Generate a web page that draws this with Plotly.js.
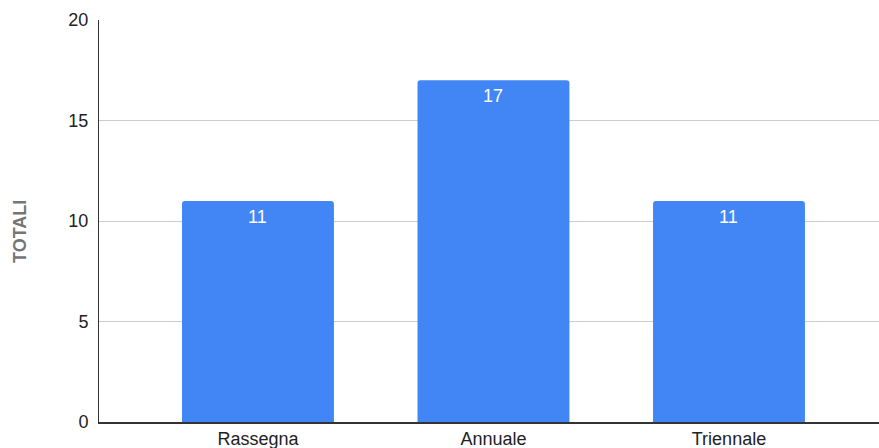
<!DOCTYPE html>
<html>
<head>
<meta charset="utf-8">
<script src="https://cdn.plot.ly/plotly-3.0.1.min.js"></script>
<style>html,body{margin:0;padding:0;background:#fff;}#chart{width:879px;height:448px;}</style>
</head>
<body>
<div id="chart"></div>
<script>
const categories = ["Rassegna", "Annuale", "Triennale"];
const totals = [11, 17, 11];
const yTicks = [0, 5, 10, 15, 20];
const yTitle = "TOTALI";

const trace = {
  type: "bar",
  x: [0, 1, 2],
  y: totals,
  width: 0.645,
  marker: {color: "#4285F4", line: {width: 0}},
  hoverinfo: "none"
};

const labels = totals.map((v, i) => ({
  x: i, y: v, xref: "x", yref: "y",
  text: String(v),
  showarrow: false,
  xanchor: "center", yanchor: "top",
  yshift: -4,
  font: {family: "Arial, Liberation Sans, sans-serif", size: 18, color: "#ffffff"}
}));

labels.push({
  xref: "paper", yref: "paper",
  x: -0.1013, y: 0.475,
  xanchor: "center", yanchor: "middle",
  textangle: -90,
  text: "<b>" + yTitle + "</b>",
  showarrow: false,
  font: {family: "Arial, Liberation Sans, sans-serif", size: 18, color: "#757575"}
});

const layout = {
  width: 879, height: 448,
  margin: {l: 99, r: 0, t: 20, b: 26},
  paper_bgcolor: "#ffffff", plot_bgcolor: "#ffffff",
  showlegend: false,
  barcornerradius: 3,
  annotations: labels,
  font: {family: "Arial, Liberation Sans, sans-serif", size: 18, color: "#222222"},
  xaxis: {
    range: [-0.675, 2.637],
    tickvals: [0, 1, 2],
    ticktext: categories,
    showgrid: false,
    zeroline: false,
    showline: true, linecolor: "#333333", linewidth: 1.5,
    ticks: "", ticklen: 0,
    tickfont: {size: 18, color: "#222222"},
    fixedrange: true
  },
  yaxis: {
    range: [0, 20],
    tickvals: yTicks,
    showgrid: true, gridcolor: "#cccccc", gridwidth: 1,
    zeroline: false,
    showline: true, linecolor: "#333333", linewidth: 1,
    ticks: "", ticklabelstandoff: 6,
    tickfont: {size: 18, color: "#222222"},
    fixedrange: true
  }
};

Plotly.newPlot("chart", [trace], layout, {displayModeBar: false, staticPlot: true});
</script>
</body>
</html>
